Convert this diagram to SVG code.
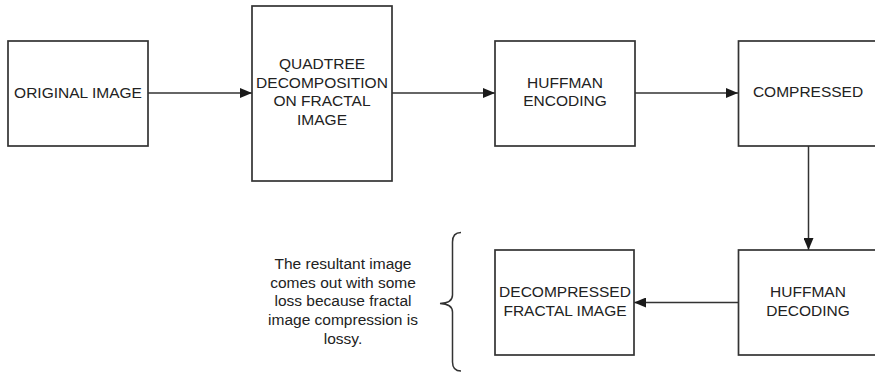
<svg xmlns="http://www.w3.org/2000/svg" width="875" height="372" viewBox="0 0 875 372">
<defs>
<style>
.box{fill:#fff;stroke:#333;stroke-width:1.7}
.lbl{font-family:"Liberation Sans",Arial,sans-serif;font-size:15.5px;fill:#222;text-anchor:middle}
.conn{fill:none;stroke:#333;stroke-width:1.5}
</style>
<marker id="ah" viewBox="0 0 12 10" refX="12" refY="5" markerWidth="12" markerHeight="10" markerUnits="userSpaceOnUse" orient="auto">
<path d="M0,0 L12,5 L0,10 Z" fill="#1a1a1a"/>
</marker>
</defs>
<rect width="875" height="372" fill="#fff"/>
<g id="connectors">
<line class="conn" x1="148" y1="93" x2="252" y2="93" marker-end="url(#ah)"/>
<line class="conn" x1="392" y1="93" x2="495" y2="93" marker-end="url(#ah)"/>
<line class="conn" x1="635" y1="93" x2="738" y2="93" marker-end="url(#ah)"/>
<line class="conn" x1="808.5" y1="146" x2="808.5" y2="250" marker-end="url(#ah)"/>
<line class="conn" x1="738" y1="302.5" x2="634" y2="302.5" marker-end="url(#ah)"/>
</g>
<g id="original">
<rect class="box" x="8" y="41" width="140" height="105"/>
<text class="lbl" x="78" y="97.5">ORIGINAL IMAGE</text>
</g>
<g id="quadtree">
<rect class="box" x="252" y="6" width="140" height="175"/>
<text class="lbl" x="322" y="68.5">QUADTREE</text>
<text class="lbl" x="322" y="87.5">DECOMPOSITION</text>
<text class="lbl" x="322" y="106">ON FRACTAL</text>
<text class="lbl" x="322" y="124.5">IMAGE</text>
</g>
<g id="huffman-enc">
<rect class="box" x="495" y="41" width="140" height="105"/>
<text class="lbl" x="565" y="87.5">HUFFMAN</text>
<text class="lbl" x="565" y="106">ENCODING</text>
</g>
<g id="compressed">
<rect class="box" x="738.5" y="41" width="142" height="105"/>
<text class="lbl" x="808" y="97">COMPRESSED</text>
</g>
<g id="huffman-dec">
<rect class="box" x="738.5" y="250" width="142" height="105"/>
<text class="lbl" x="808" y="296.5">HUFFMAN</text>
<text class="lbl" x="808" y="315.5">DECODING</text>
</g>
<g id="decompressed">
<rect class="box" x="495" y="250" width="139" height="105"/>
<text class="lbl" x="565" y="297">DECOMPRESSED</text>
<text class="lbl" x="565" y="315.5">FRACTAL IMAGE</text>
</g>
<g id="note">
<path class="conn" d="M461,232.5 Q452.5,232.5 452.5,242 L452.5,295 Q452.5,303 440,303.5 Q452.5,304 452.5,312 L452.5,362 Q452.5,371 461,371"/>
<text class="lbl" x="343" y="268.5">The resultant image</text>
<text class="lbl" x="343" y="287.5">comes out with some</text>
<text class="lbl" x="343" y="306">loss because fractal</text>
<text class="lbl" x="343" y="324.5">image compression is</text>
<text class="lbl" x="343" y="343.5">lossy.</text>
</g>
</svg>
